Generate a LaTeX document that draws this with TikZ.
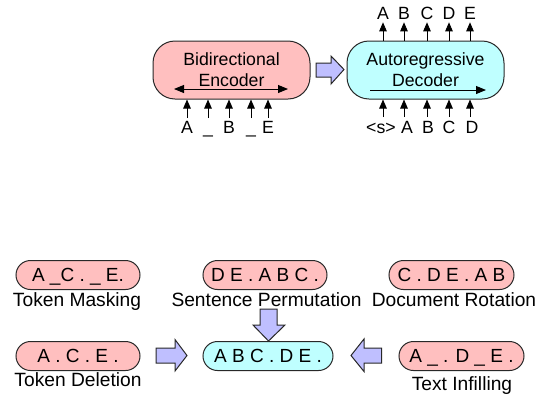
\documentclass[tikz,border=0pt]{standalone}
\usepackage{fontspec}
\setmainfont{Liberation Sans}
\usetikzlibrary{arrows.meta}
\definecolor{pinkfill}{RGB}{255,191,191}
\definecolor{cyanfill}{RGB}{191,255,255}
\definecolor{fatfill}{RGB}{191,191,255}
\definecolor{edgegray}{RGB}{40,40,40}
\tikzset{
  bigbox/.style={draw=edgegray, line width=1pt, rounded corners=22pt, minimum width=157pt, minimum height=58pt, align=center, inner sep=0pt, font=\fontsize{17.7}{21}\selectfont},
  pillbox/.style={draw=edgegray, line width=1pt, rounded corners=14.5pt, minimum height=29pt, inner sep=0pt, text height=13.5pt, text depth=0pt, font=\fontsize{19}{22}\selectfont},
  toklab/.style={inner sep=0pt, outer sep=3pt, text height=12.5pt, text depth=0pt, anchor=base, font=\fontsize{17.7}{21}\selectfont},
  caplab/.style={inner sep=0pt, anchor=base, font=\fontsize{19.2}{22}\selectfont},
  tokarrow/.style={-{Triangle[length=9pt,width=7.5pt]}, line width=0.9pt},
  fatarrow/.style={draw=edgegray, fill=fatfill, line width=1pt, line join=miter},
}
\begin{document}
\begin{tikzpicture}[x=1pt,y=-1pt]
\useasboundingbox (0,0) rectangle (550,408);

% top: encoder and decoder
\node[bigbox, fill=pinkfill] (enc) at (231.5,70) {Bidirectional\\Encoder};
\node[bigbox, fill=cyanfill] (dec) at (425.5,70) {Autoregressive\\Decoder};

\coordinate (el) at (174,89);
\coordinate (er) at (288,89);
\draw[{Triangle[length=10pt,width=8pt]}-{Triangle[length=10pt,width=8pt]}, line width=0.9pt] (el) -- (er);
\coordinate (dl) at (370,90);
\coordinate (dr) at (486,90);
\draw[-{Triangle[length=10pt,width=8pt]}, line width=0.9pt] (dl) -- (dr);

% fat arrow encoder -> decoder
\draw[fatarrow] (316,63) -- (331,63) -- (331,56) -- (344,69.5) -- (331,84) -- (331,77) -- (316,77) -- cycle;

% encoder inputs
\foreach \n/\x/\t in {ea/187/A, eb/208/\_, ec/229/B, ed/251/\_, ee/268/E}{
  \node[toklab] (\n) at (\x,133.5) {\t};
  \draw[tokarrow] (\n.north) -- (\n.north |- enc.south);
}
% decoder inputs
\foreach \n/\x/\y/\t in {da/383/381/<s>, db/404/407/A, dc/427/428/B, dd/449/449/C, de/470/472/D}{
  \node[toklab] (\n) at (\y,133.5) {\t};
  \coordinate (\n t) at (\x,117);
  \draw[tokarrow] (\n t) -- (\n t |- dec.south);
}
% decoder outputs
\foreach \n/\x/\t in {oa/383/A, ob/404/B, oc/427/C, od/449/D, oe/470/E}{
  \node[toklab] (\n) at (\x,19.3) {\t};
  \draw[tokarrow] (\n.south |- dec.north) -- (\n.south);
}

% bottom: noising transformations
\node[pillbox, fill=pinkfill, minimum width=124pt] (tm) at (78,275) {A \_C . \_ E.};
\node[caplab] (tml) at (77,306) {Token Masking};
\node[pillbox, fill=pinkfill, minimum width=124pt] (sp) at (265,275) {D E . A B C .};
\node[caplab] (spl) at (266.5,306) {Sentence Permutation};
\node[pillbox, fill=pinkfill, minimum width=125pt] (dr2) at (451.5,275) {C . D E . A B};
\node[caplab] (drl) at (454,306) {Document Rotation};

\node[pillbox, fill=pinkfill, minimum width=124pt] (td) at (78,356) {A . C . E .};
\node[caplab] (tdl) at (78,386) {Token Deletion};
\node[pillbox, fill=cyanfill, minimum width=130pt] (ctr) at (268,356) {A B C . D E .};
\node[pillbox, fill=pinkfill, minimum width=125pt] (ti) at (461.5,356) {A \_ . D \_ E .};
\node[caplab] (til) at (462,390) {Text Infilling};

% fat arrows into the centre
\draw[fatarrow] (156,348) -- (175,348) -- (175,339.5) -- (187,355.5) -- (175,371) -- (175,363) -- (156,363) -- cycle;
\draw[fatarrow] (381.5,348) -- (364,348) -- (364,339) -- (351,355.5) -- (364,371.5) -- (364,363) -- (381.5,363) -- cycle;
\draw[fatarrow] (260,309) -- (277,309) -- (277,325) -- (285,325) -- (268.5,341) -- (253,325) -- (260,325) -- cycle;
\end{tikzpicture}
\end{document}
